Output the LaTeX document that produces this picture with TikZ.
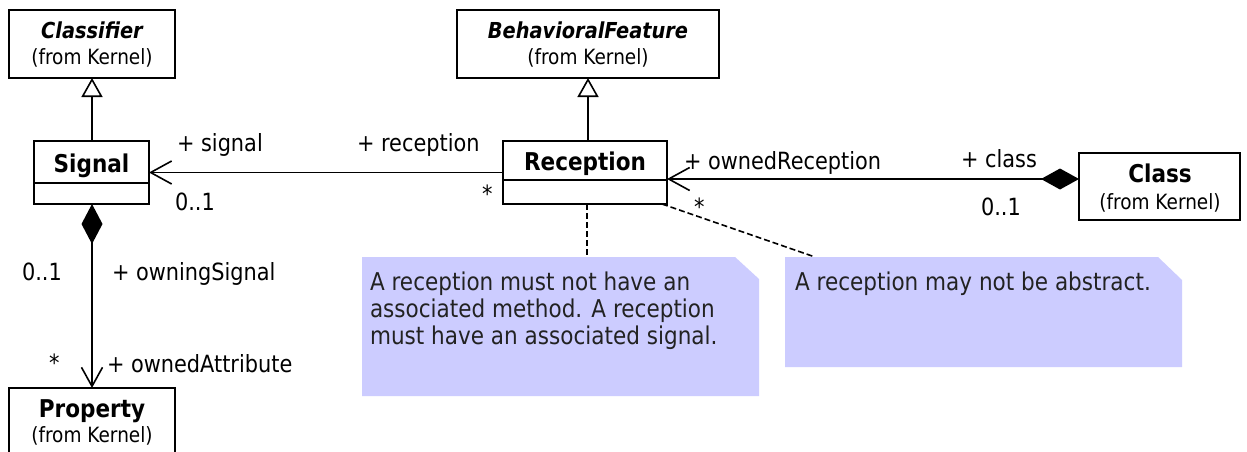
\documentclass[tikz,border=0pt]{standalone}
\usepackage{fontspec}
\setmainfont{DejaVu Sans}[FakeStretch=0.88]
\usetikzlibrary{arrows.meta}
\definecolor{notefill}{HTML}{CCCCFF}
\definecolor{notetext}{HTML}{222222}
\begin{document}
\begin{tikzpicture}[x=1pt,y=-1pt, line width=1.6pt,
  box/.style={draw, rectangle, inner sep=0pt, outer sep=0pt},
  txt/.style={inner sep=0pt, outer sep=0pt, anchor=base},
  nm/.style={txt, font=\fontsize{24.5}{28}\selectfont\bfseries},
  anm/.style={txt, font=\fontsize{22}{26}\selectfont\bfseries\itshape},
  frm/.style={txt, font=\fontsize{21}{25}\selectfont},
  lbl/.style={inner sep=0pt, outer sep=0pt, anchor=base west, font=\fontsize{23.7}{27}\selectfont},
  notebox/.style={rectangle, inner sep=0pt, outer sep=0pt},
  notetxt/.style={inner sep=0pt, outer sep=0pt, anchor=base west, font=\fontsize{24.5}{27}\selectfont, text=notetext},
  gen/.style={-{Triangle[open, length=19pt, width=21pt]}},
  nav/.style={-{Straight Barb[length=21pt, width=23pt]}},
  comp/.style={{Diamond[length=40pt, width=21pt]}-{Straight Barb[length=19pt, width=21pt]}},
  anchorline/.style={dash pattern=on 6pt off 3pt}
]
\useasboundingbox (0,0) rectangle (1247,452);
\clip (0,0) rectangle (1247,452);
\fill[white] (0,0) rectangle (1247,452);

% classes
\node[box, minimum width=166pt, minimum height=68pt] (clf) at (92,44) {};
\node[anm] (clfn) at (92,38) {Classifier};
\node[frm] (clff) at (92,65) {(from Kernel)};

\node[box, minimum width=262pt, minimum height=68pt] (bf) at (588,44) {};
\node[anm] (bfn) at (588,39) {BehavioralFeature};
\node[frm] (bff) at (588,65) {(from Kernel)};

\node[box, minimum width=115pt, minimum height=63pt] (sig) at (91.5,172.5) {};
\node[nm] (sign) at (91.5,172) {Signal};
\draw (sig.west |- 0,183) -- (sig.east |- 0,183);

\node[box, minimum width=164pt, minimum height=63pt] (rec) at (585,172.5) {};
\node[nm] (recn) at (585,170) {Reception};
\draw (rec.west |- 0,180) -- (rec.east |- 0,180);

\node[box, minimum width=161pt, minimum height=67pt] (cls) at (1159.5,186.5) {};
\node[nm] (clsn) at (1160,182) {Class};
\node[frm] (clsf) at (1160,209) {(from Kernel)};

\node[box, minimum width=166pt, minimum height=82pt] (prop) at (92,429) {};
\node[nm] (propn) at (92,417) {Property};
\node[frm] (propf) at (92,442) {(from Kernel)};

% notes
\node[notebox, minimum width=397pt, minimum height=139pt] (n1) at (560.5,326.5) {};
\fill[notefill] (n1.south west) -- (n1.north west) -- ([xshift=-24pt]n1.north east)
  -- ([yshift=-22pt]n1.north east) -- (n1.south east) -- cycle;
\node[notetxt] (n1a) at (370,290) {A reception must not have an};
\node[notetxt] (n1b) at (370,317) {associated method. A reception};
\node[notetxt] (n1c) at (370,344) {must have an associated signal.};

\node[notebox, minimum width=397pt, minimum height=110pt] (n2) at (983.5,312) {};
\fill[notefill] (n2.south west) -- (n2.north west) -- ([xshift=-24pt]n2.north east)
  -- ([yshift=-23pt]n2.north east) -- (n2.south east) -- cycle;
\node[notetxt] (n2a) at (795,290) {A reception may not be abstract.};

% generalizations
\draw[gen] (sig.north -| clf.south) -- (clf.south);
\draw[gen] (rec.north -| bf.south) -- (bf.south);

% associations
\draw[nav] (rec.west |- sig.east) -- (sig.east);
\coordinate (c1) at ([yshift=7.5pt]cls.west);
\draw[{Diamond[length=38pt, width=21pt]}-{Straight Barb[length=21pt, width=23pt]}] (c1) -- (c1 -| rec.east);
\draw[comp] (sig.south -| prop.north) -- (prop.north);

% anchors to notes
\draw[anchorline] ([xshift=2pt]rec.south) -- ([xshift=2pt]rec.south |- n1.north);
\draw[anchorline] ([xshift=-5pt]rec.south east) -- ([xshift=30pt]n2.north west);

% labels
\node[lbl] (l1) at (177,151) {+ signal};
\node[lbl] (l2) at (175,210) {0..1};
\node[lbl] (l3) at (357,151) {+ reception};
\node[lbl] (l4) at (482,202) {*};
\node[lbl] (l5) at (684,169) {+ ownedReception};
\node[lbl] (l6) at (694,215) {*};
\node[lbl] (l7) at (961,167) {+ class};
\node[lbl] (l8) at (981,215) {0..1};
\node[lbl] (l9) at (22,280) {0..1};
\node[lbl] (l10) at (112,280) {+ owningSignal};
\node[lbl] (l11) at (49,371) {*};
\node[lbl] (l12) at (107,372) {+ ownedAttribute};
\end{tikzpicture}
\end{document}
